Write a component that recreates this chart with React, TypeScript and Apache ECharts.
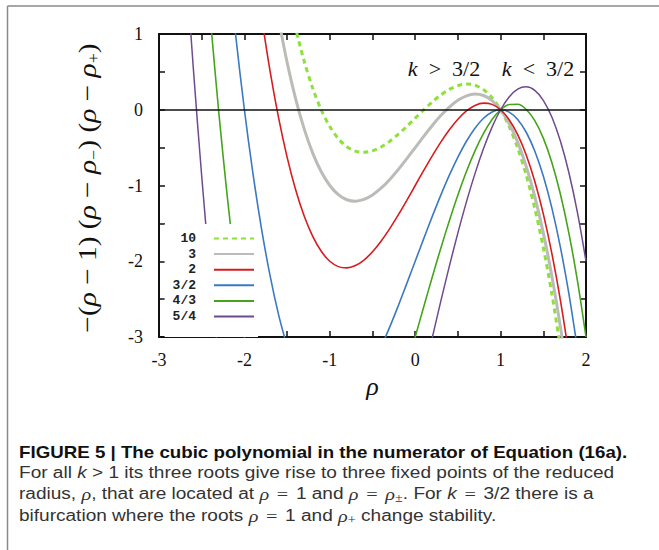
import React, { useEffect, useRef } from "react";
import * as echarts from "echarts";

const _ = null;

// rho sample positions (x axis)
const rho = [
  -3.0, -2.9, -2.8, -2.7, -2.6, -2.5, -2.4, -2.3, -2.2, -2.1,
  -2.0, -1.9, -1.8, -1.7, -1.6, -1.5, -1.4, -1.3, -1.2, -1.1,
  -1.0, -0.9, -0.8, -0.7, -0.6, -0.5, -0.4, -0.3, -0.2, -0.1,
  0.0, 0.1, 0.2, 0.3, 0.4, 0.5, 0.6, 0.7, 0.8, 0.9,
  1.0, 1.1, 1.2, 1.3, 1.4, 1.5, 1.6, 1.7, 1.8, 1.9, 2.0,
];

// curve values (null = outside the plotted window)
const curveK10 = [
  _, _, _, _, _, _, _, _, _, _, _, _, _, _, _,
  1.597, 1.077, 0.641, 0.284, -0.002, -0.222, -0.382, -0.488, -0.546, -0.562,
  -0.542, -0.492, -0.417, -0.325, -0.221, -0.111, -0.001, 0.103, 0.195, 0.269,
  0.319, 0.34, 0.324, 0.266, 0.16, 0, -0.22, -0.506, -0.864, -1.3,
  -1.819, -2.429, -3.135,
  _, _, _,
];
const curveK3 = [
  _, _, _, _, _, _, _, _, _, _, _, _, _, _,
  1.196, 0.625, 0.144, -0.253, -0.572, -0.819, -1.0, -1.121, -1.188, -1.207,
  -1.184, -1.125, -1.036, -0.923, -0.792, -0.649, -0.5, -0.351, -0.208, -0.077,
  0.036, 0.125, 0.184, 0.207, 0.188, 0.121, 0, -0.181, -0.428, -0.747,
  -1.144, -1.625, -2.196, -2.863, -3.632,
  _, _,
];
const curveK2 = [
  _, _, _, _, _, _, _, _, _, _, _, _,
  1.232, 0.513, -0.104, -0.625, -1.056, -1.403, -1.672, -1.869, -2.0, -2.071,
  -2.088, -2.057, -1.984, -1.875, -1.736, -1.573, -1.392, -1.199, -1.0, -0.801,
  -0.608, -0.427, -0.264, -0.125, -0.016, 0.057, 0.088, 0.071, 0, -0.131,
  -0.328, -0.597, -0.944, -1.375, -1.896, -2.513, -3.232,
  _, _,
];
const curveK3over2 = [
  _, _, _, _, _, _, _, _,
  2.048, 0.961, 0, -0.841, -1.568, -2.187, -2.704, -3.125,
  _, _, _, _, _, _, _, _, _, _,
  -3.136, -2.873, -2.592, -2.299, -2.0, -1.701, -1.408, -1.127, -0.864, -0.625,
  -0.416, -0.243, -0.112, -0.029, 0, -0.031, -0.128, -0.297, -0.544, -0.875,
  -1.296, -1.813, -2.432, -3.159,
  _,
];
const curveK4over3 = [
  _, _, _, _, _, _,
  1.224, -0.033, -1.152, -2.139, -3.0, -3.741,
  _, _, _, _, _, _, _, _, _, _, _, _, _, _, _, _, _,
  -3.399, -3.0, -2.601, -2.208, -1.827, -1.464, -1.125, -0.816, -0.543, -0.312,
  -0.129, 0, 0.069, 0.072, 0.003, -0.144, -0.375, -0.696, -1.113, -1.632,
  -2.259, -3.0,
];
const curveK5over4 = [
  _, _, _,
  2.183, 0.576, -0.875, -2.176, -3.333,
  _, _, _, _, _, _, _, _, _, _, _, _, _, _, _, _, _, _, _, _, _, _, _,
  -3.501, -3.008, -2.527, -2.064, -1.625, -1.216, -0.843, -0.512, -0.229, 0,
  0.169, 0.272, 0.303, 0.256, 0.125, -0.096, -0.413, -0.832, -1.359, -2.0,
];

const kLabels = ["10", "3", "2", "3/2", "4/3", "5/4"];
const curves = [curveK10, curveK3, curveK2, curveK3over2, curveK4over3, curveK5over4];

const lineStyles = [
  { color: "#8ee03a", width: 3, type: [5, 4] as any },
  { color: "#bbbbb7", width: 3, type: "solid" },
  { color: "#d81c1e", width: 1.6, type: "solid" },
  { color: "#3b79c2", width: 1.6, type: "solid" },
  { color: "#45a41a", width: 1.6, type: "solid" },
  { color: "#6e4b8d", width: 1.5, type: "solid" },
];

const toPairs = (vals: (number | null)[]) =>
  rho.map((x, i) => [x, vals[i] === null ? "-" : vals[i]]);

const intLabel = (v: number) =>
  Math.abs(v - Math.round(v)) < 1e-9 ? String(Math.round(v)) : "";

const axisColor = "#111";

export default function App() {
  const ref = useRef<HTMLDivElement>(null);
  useEffect(() => {
    const chart = echarts.init(ref.current!, undefined, { renderer: "svg" });

    const xBase = {
      type: "value",
      min: -3,
      max: 2,
      interval: 0.5,
      axisLine: { show: true, onZero: false, lineStyle: { color: axisColor, width: 2 } },
      axisTick: { show: true, inside: true, length: 6, lineStyle: { color: axisColor, width: 1.5 } },
      splitLine: { show: false },
    };
    const yBase = {
      type: "value",
      min: -3,
      max: 1,
      interval: 0.5,
      axisLine: { show: true, onZero: false, lineStyle: { color: axisColor, width: 2 } },
      axisTick: { show: true, inside: true, length: 6, lineStyle: { color: axisColor, width: 1.5 } },
      splitLine: { show: false },
    };
    const tickFont = { fontFamily: "Liberation Serif", fontSize: 18, color: "#111" };

    const sub = { fontFamily: "Liberation Serif", fontSize: 16, fontStyle: "normal", fontWeight: "normal", verticalAlign: "bottom", lineHeight: 13 };
    const capSub = { fontFamily: "Liberation Serif", fontSize: 12, fontStyle: "normal", fontWeight: "normal", verticalAlign: "bottom", lineHeight: 10 };
    const capRho = { fontFamily: "Liberation Serif", fontSize: 17, fontStyle: "italic", fontWeight: "normal" };
    const capK = { fontFamily: "Liberation Sans", fontSize: 16, fontStyle: "italic", fontWeight: "normal" };
    const capEq = { fontFamily: "Liberation Serif", fontSize: 17, fontStyle: "normal", fontWeight: "normal", padding: [0, 2, 0, 2] };

    const capLines = [
      "For all {k|k} > 1 its three roots give rise to three fixed points of the reduced",
      "radius, {r|ρ}, that are located at {r|ρ} {e|=} 1 and {r|ρ} {e|=} {r|ρ}{s|±}. For {k|k} {e|=} 3/2 there is a",
      "bifurcation where the roots {r|ρ} {e|=} 1 and {r|ρ}{s|+} change stability.",
    ];
    const capY = [473, 494, 516];

    const option: any = {
      animation: false,
      backgroundColor: "#fff",
      grid: { left: 159, top: 34, width: 427, height: 303, outerBoundsMode: "none", containLabel: false },
      xAxis: [
        {
          ...xBase,
          position: "bottom",
          axisLabel: { ...tickFont, margin: 14, formatter: intLabel },
          name: "ρ",
          nameLocation: "middle",
          nameGap: 29,
          nameTextStyle: { fontFamily: "Liberation Serif", fontStyle: "italic", fontSize: 26, color: "#111" },
        },
        { ...xBase, position: "top", axisLabel: { show: false } },
      ],
      yAxis: [
        { ...yBase, position: "left", axisLabel: { ...tickFont, margin: 16, formatter: intLabel } },
        { ...yBase, position: "right", axisLabel: { show: false } },
      ],
      legend: {
        data: kLabels,
        orient: "vertical",
        align: "right",
        right: 401,
        top: 224,
        padding: [8, 3, 14, 8],
        itemWidth: 40,
        itemHeight: 14,
        itemGap: 2.6,
        selectedMode: false,
        backgroundColor: "#fff",
        itemStyle: { color: "transparent", borderWidth: 0, opacity: 0 },
        textStyle: {
          fontFamily: "Liberation Mono",
          fontWeight: "bold",
          fontSize: 13,
          color: "#222",
          padding: [0, 13, 0, 0],
        },
      },
      series: curves.map((vals, i) => ({
        name: kLabels[i],
        type: "line",
        data: toPairs(vals),
        symbol: "none",
        smooth: 0.3,
        clip: true,
        silent: true,
        connectNulls: false,
        lineStyle: lineStyles[i],
        itemStyle: { color: lineStyles[i].color },
        z: 3,
        markLine:
          i === 0
            ? {
                silent: true,
                symbol: "none",
                label: { show: false },
                lineStyle: { color: "#111", width: 1.5, type: "solid" },
                data: [{ yAxis: 0 }],
              }
            : undefined,
      })),
      graphic: [
        { type: "line", shape: { x1: 7.5, y1: 6, x2: 659, y2: 6 }, style: { stroke: "#8a8a8a", lineWidth: 1.5 } },
        { type: "line", shape: { x1: 7.5, y1: 6, x2: 7.5, y2: 550 }, style: { stroke: "#8a8a8a", lineWidth: 1.5 } },
        {
          type: "text",
          x: 444,
          y: 68,
          style: {
            text: "{i|k}\u2002>\u20023/2",
            fontFamily: "Liberation Serif",
            fontSize: 22,
            fill: "#111",
            align: "center",
            verticalAlign: "middle",
            rich: { i: { fontFamily: "Liberation Serif", fontSize: 22, fontStyle: "italic", fontWeight: "normal", fill: "#111" } },
          },
        },
        {
          type: "text",
          x: 538,
          y: 68,
          style: {
            text: "{i|k}\u2002<\u20023/2",
            fontFamily: "Liberation Serif",
            fontSize: 22,
            fill: "#111",
            align: "center",
            verticalAlign: "middle",
            rich: { i: { fontFamily: "Liberation Serif", fontSize: 22, fontStyle: "italic", fontWeight: "normal", fill: "#111" } },
          },
        },
        {
          type: "text",
          x: 87,
          y: 188,
          rotation: Math.PI / 2,
          scaleX: 1.13,
          style: {
            text: "−({r|ρ} − 1) ({r|ρ} − {r|ρ}{s|−}) ({r|ρ} − {r|ρ}{s|+})",
            fontFamily: "Liberation Serif",
            fontSize: 26,
            lineHeight: 30,
            fill: "#111",
            align: "center",
            verticalAlign: "middle",
            rich: {
              r: { fontFamily: "Liberation Serif", fontSize: 26, fontStyle: "italic", fontWeight: "normal", fill: "#111" },
              s: { ...sub, fill: "#111" },
            },
          },
        },
        {
          type: "text",
          x: 19,
          y: 452,
          scaleX: 1.17,
          style: {
            text: "FIGURE 5 | The cubic polynomial in the numerator of Equation (16a).",
            fontFamily: "Liberation Sans",
            fontWeight: "bold",
            fontSize: 16,
            fill: "#111",
            align: "left",
            verticalAlign: "middle",
          },
        },
        ...capLines.map((t, i) => ({
          type: "text",
          x: 19,
          y: capY[i],
          scaleX: 1.19,
          style: {
            text: t,
            fontFamily: "Liberation Sans",
            fontSize: 16,
            lineHeight: 20,
            fill: "#333",
            align: "left",
            verticalAlign: "middle",
            rich: {
              r: { ...capRho, fill: "#333" },
              k: { ...capK, fill: "#333" },
              s: { ...capSub, fill: "#333" },
              e: { ...capEq, fill: "#333" },
            },
          },
        })),
      ],
    };

    chart.setOption(option);
    return () => chart.dispose();
  }, []);

  return (
    <div
      ref={ref}
      style={{ position: "fixed", left: 0, top: 0, width: 659, height: 550, background: "#fff" }}
    />
  );
}
